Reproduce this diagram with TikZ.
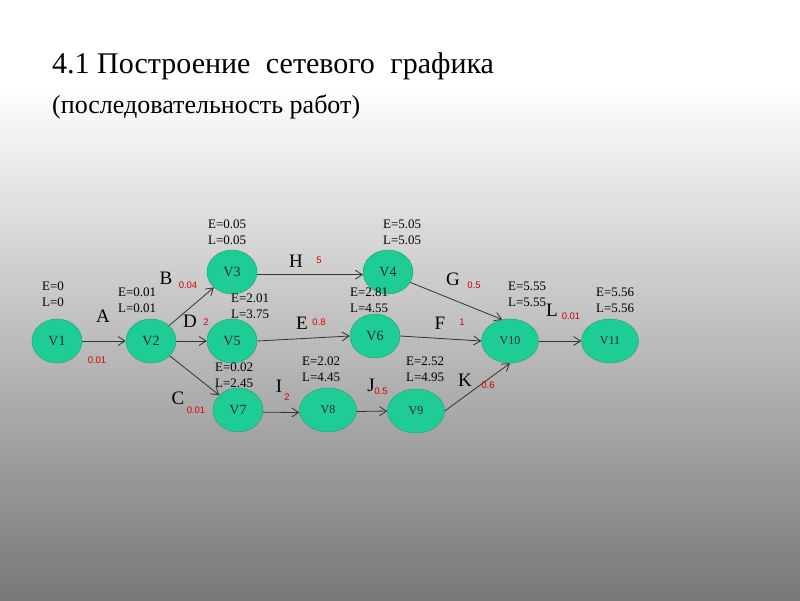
\documentclass[tikz,border=0pt]{standalone}
\usepackage{fontspec}
\setmainfont{Liberation Serif}
\newfontfamily\numfont{Liberation Sans}
\usetikzlibrary{shapes.geometric,arrows.meta}
\definecolor{vgreen}{RGB}{30,205,150}
\definecolor{vrim}{RGB}{40,165,120}
\tikzset{vert/.style = {ellipse, draw = vrim, line width = 0.5, fill = vgreen, inner sep = 0, minimum width = 50, minimum height = 44, text = black!85, font = \fontsize{14}{14}\selectfont}}
\tikzset{wvert/.style = {vert, minimum width = 57, font = \fontsize{12}{12}\selectfont}}
\tikzset{job/.style = {inner sep = 0, font = \fontsize{19}{19}\selectfont}}
\tikzset{dur/.style = {inner sep = 0, text = red!85!black, font = \numfont\fontsize{9.5}{9.5}\selectfont}}
\tikzset{tim/.style = {anchor = west, align = left, inner sep = 0, font = \fontsize{13}{16}\selectfont}}
\tikzset{arc/.style = {draw = black!80, line width = 0.8, -{Straight Barb[length = 7, width = 9]}}}

\begin{document}
\begin{tikzpicture}[x = 1pt, y = -1pt]
    \useasboundingbox (0, 0) rectangle (800, 600);
    \fill [white] (0, 0) rectangle (800, 85);
    \shade [top color = white, bottom color = black!53] (0, 85) rectangle (800, 600);
    \node [anchor = base west, inner sep = 0, font = \fontsize{30}{30}\selectfont] (title) at (52, 73) {4.1 Построение\hspace{8pt} сетевого\hspace{8pt} графика};
    \node [anchor = base west, inner sep = 0, font = \fontsize{26}{26}\selectfont] (subtitle) at (52, 113) {(последовательность работ)};

    \node [vert] (v1) at (57, 341) {V1};
    \node [vert] (v2) at (151, 341) {V2};
    \node [vert] (v3) at (232, 272) {V3};
    \node [vert] (v4) at (388, 272) {V4};
    \node [vert] (v5) at (232, 341) {V5};
    \node [vert] (v6) at (375, 336) {V6};
    \node [vert] (v7) at (238, 410) {V7};
    \node [wvert] (v8) at (328, 410) {V8};
    \node [wvert] (v9) at (416, 411) {V9};
    \node [wvert] (v10) at (510, 341) {V10};
    \node [wvert] (v11) at (610, 341) {V11};

    \draw [arc] (v1) -- (v2);
    \draw [arc] (v2) -- (v3);
    \draw [arc] (v2) -- (v5);
    \draw [arc] (v2) -- (v7);
    \draw [arc] (v3.-6) -- (v4.186);
    \draw [arc] (v5.east) -- (v6.west);
    \draw [arc] (v7.-5) -- (v8.185);
    \draw [arc] (v8.-3) -- (v9.west);
    \draw [arc] (v4.-25) -- (v10.110);
    \draw [arc] (v6.east) -- (v10.west);
    \draw [arc] (v9.east) -- (v10.south);
    \draw [arc] (v10) -- (v11);

    \node [tim] (t1) at (42, 294) {E=0\\L=0};
    \node [tim] (t2) at (118, 300) {E=0.01\\L=0.01};
    \node [tim] (t3) at (208, 232) {E=0.05\\L=0.05};
    \node [tim] (t4) at (383, 232) {E=5.05\\L=5.05};
    \node [tim] (t5) at (231, 306) {E=2.01\\L=3.75};
    \node [tim] (t6) at (350, 300) {E=2.81\\L=4.55};
    \node [tim] (t7) at (215, 375) {E=0.02\\L=2.45};
    \node [tim] (t8) at (302, 369) {E=2.02\\L=4.45};
    \node [tim] (t9) at (406, 369) {E=2.52\\L=4.95};
    \node [tim] (t10) at (508, 294) {E=5.55\\L=5.55};
    \node [tim] (t11) at (596, 300) {E=5.56\\L=5.56};

    \node [job] (ja) at (103, 316) {A};
    \node [dur] (da) at (97, 360) {0.01};
    \node [job] (jb) at (166, 278) {B};
    \node [dur] (db) at (188, 285) {0.04};
    \node [job] (jd) at (190, 321) {D};
    \node [dur] (dd) at (206, 322) {2};
    \node [job] (jc) at (178, 398) {C};
    \node [dur] (dc) at (196, 410) {0.01};
    \node [job] (jh) at (296, 261) {H};
    \node [dur] (dh) at (319, 260) {5};
    \node [job] (jg) at (453, 279) {G};
    \node [dur] (dg) at (474, 285) {0.5};
    \node [job] (je) at (302, 323) {E};
    \node [dur] (de) at (319, 322) {0.8};
    \node [job] (jf) at (440, 323) {F};
    \node [dur] (df) at (462, 322) {1};
    \node [job] (ji) at (279, 386) {I};
    \node [dur] (di) at (287, 397) {2};
    \node [job] (jj) at (371, 385) {J};
    \node [dur] (dj) at (381, 391) {0.5};
    \node [job] (jk) at (465, 380) {K};
    \node [dur] (dk) at (488, 385) {0.6};
    \node [job] (jl) at (552, 310) {L};
    \node [dur] (dl) at (571, 316) {0.01};
\end{tikzpicture}
\end{document}
